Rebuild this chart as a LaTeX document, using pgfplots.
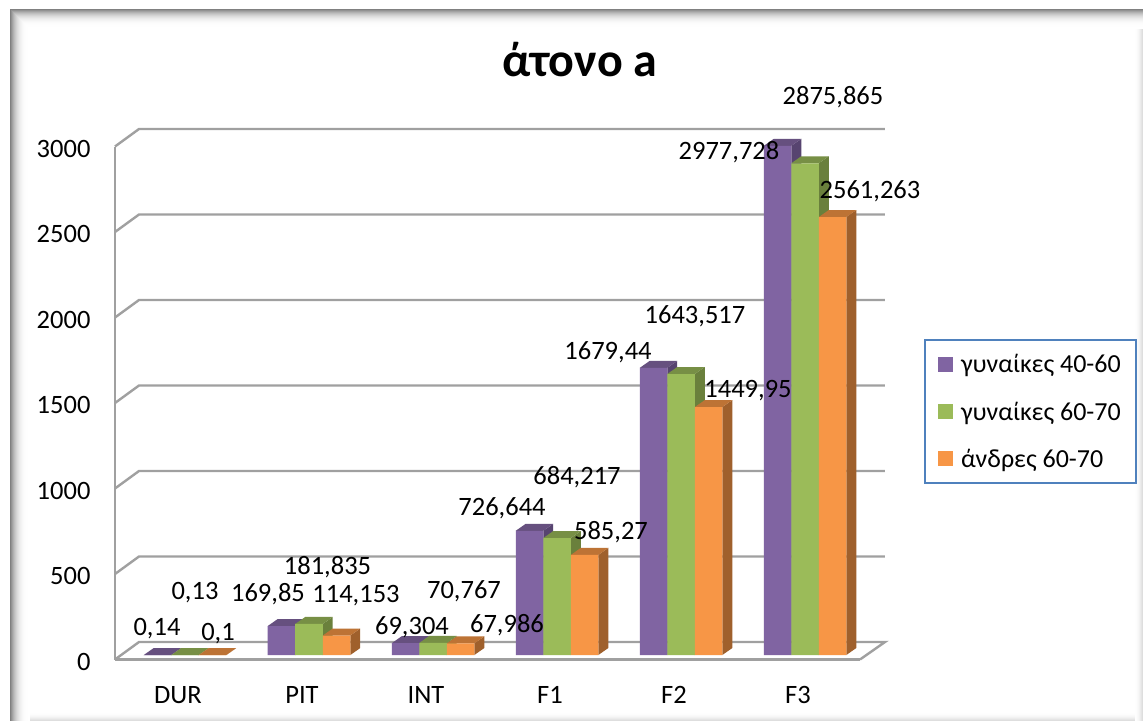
\documentclass[border=0pt]{standalone}
\usepackage{fontspec}
\setmainfont{Carlito}
\usepackage{pgfplots}
\usepackage{pgfplotstable}
\pgfplotsset{compat=1.18}

\definecolor{purp}{HTML}{8064A2}\definecolor{purptop}{HTML}{66507F}\definecolor{purpside}{HTML}{574470}
\definecolor{gre}{HTML}{9BBB59}\definecolor{gretop}{HTML}{778F45}\definecolor{greside}{HTML}{6A803C}
\definecolor{ora}{HTML}{F79646}\definecolor{oratop}{HTML}{BD7335}\definecolor{oraside}{HTML}{9F602C}
\definecolor{wall}{HTML}{A0A0A0}
\definecolor{legblue}{HTML}{4F81BD}

\pgfplotstableread{
x y
0 0.14
1 169.85
2 69.304
3 726.644
4 1679.44
5 2977.728
}\womenA
\pgfplotstableread{
x y
0 0.13
1 181.835
2 70.767
3 684.217
4 1643.517
5 2875.865
}\womenB
\pgfplotstableread{
x y
0 0.1
1 114.153
2 67.986
3 585.27
4 1449.95
5 2561.263
}\menB

% top and side face of each bar: table, left offset, top colour, side colour
\newcommand{\faces}[4]{%
  \pgfplotsforeachungrouped \i in {0,...,5}{%
    \pgfplotstablegetelem{\i}{y}\of#1
    \let\v\pgfplotsretval
    \pgfmathsetmacro\xa{\i+#2}
    \pgfmathsetmacro\xb{\xa+0.2218}
    \pgfmathsetmacro\xc{\xb+0.0806}
    \pgfmathsetmacro\xd{\xa+0.0806}
    \pgfmathsetmacro\yt{\v+41}
    \addplot[forget plot,draw=none,fill=#4] coordinates {(\xb,0)(\xc,41)(\xc,\yt)(\xb,\v)};
    \addplot[forget plot,draw=none,fill=#3] coordinates {(\xa,\v)(\xd,\yt)(\xc,\yt)(\xb,\v)};
  }%
}
\newcommand{\lbl}[3]{\node[anchor=base,inner sep=0pt,font=\fontsize{26.5}{30}\selectfont] at (#1,#2+8.5) {#3};}

\begin{document}
\begin{tikzpicture}
\useasboundingbox (-115pt,-61.5pt) rectangle (1028pt,659.5pt);
\begin{scope}[x=1pt,y=-1pt,shift={(-115pt,659.5pt)}]
  % frame shadow, nested rectangles that fade inwards
  \foreach \k in {0,...,19}{
    \pgfmathsetmacro\g{50*(1-\k/20)^3}
    \fill[black!\g] (10+\k,9+\k) rectangle (1143,721);
  }
  \fill[white] (30,29) rectangle (1143,721);
  \foreach \k in {0,...,7}{
    \pgfmathsetmacro\g{13*((\k+1)/8)^2}
    \fill[black!\g] (1135+\k,29) rectangle (1143,721);
    \fill[black!\g] (30,713+\k) rectangle (1135,721);
  }
\end{scope}
\begin{axis}[
  scale only axis,width=745pt,height=513pt,
  xmin=-0.5645,xmax=5.4435,ymin=-26,ymax=2974,
  clip=false,
  axis x line*=bottom,axis y line*=left,
  axis line style={wall,line width=2.4pt,-},
  tick style={draw=none},
  xtick={0,...,5},xticklabels={DUR,PIT,INT,F1,F2,F3},
  ytick={-26,474,974,1474,1974,2474,2974},
  yticklabels={0,500,1000,1500,2000,2500,3000},
  tick label style={font=\fontsize{26.5}{30}\selectfont},
  xticklabel style={xshift=-7pt,yshift=-23pt},
  yticklabel style={xshift=-21pt,yshift=-2pt},
  title={άτονο a},
  title style={at={(0.624,1.157)},anchor=center,font=\bfseries\fontsize{48}{54}\selectfont},
  sq/.style={legend image code/.code={\fill[##1] (0pt,-7.5pt) rectangle (15pt,7.5pt);\path (21pt,0pt);}},
  legend style={at={(1.0859,0.6248)},anchor=north west,draw=legblue,line width=2pt,
    font=\fontsize{26}{30}\selectfont,inner xsep=13pt,inner ysep=12.5pt,row sep=23.5pt},
  legend cell align=left,
]
% back wall and floor
\addplot[forget plot,wall,line width=2.4pt] coordinates {(-0.5645,-26)(-0.371,76.3)(5.645,76.3)(5.4435,-26)};
\addplot[forget plot,wall,line width=2.4pt] coordinates {(-0.5645,474)(-0.371,576.3)(5.645,576.3)};
\addplot[forget plot,wall,line width=2.4pt] coordinates {(-0.5645,974)(-0.371,1076.3)(5.645,1076.3)};
\addplot[forget plot,wall,line width=2.4pt] coordinates {(-0.5645,1474)(-0.371,1576.3)(5.645,1576.3)};
\addplot[forget plot,wall,line width=2.4pt] coordinates {(-0.5645,1974)(-0.371,2076.3)(5.645,2076.3)};
\addplot[forget plot,wall,line width=2.4pt] coordinates {(-0.5645,2474)(-0.371,2576.3)(5.645,2576.3)};
\addplot[forget plot,wall,line width=2.4pt] coordinates {(-0.5645,2974)(-0.371,3076.3)(5.645,3076.3)};
\faces{\womenA}{-0.3327}{purptop}{purpside}
\faces{\womenB}{-0.1109}{gretop}{greside}
\faces{\menB}{0.1109}{oratop}{oraside}
\addplot[ybar,sq,bar width=27.5pt,bar shift=-27.5pt,draw=none,fill=purp] table[x=x,y=y] {\womenA};
\addlegendentry{γυναίκες 40-60}
\addplot[ybar,sq,bar width=27.5pt,bar shift=0pt,draw=none,fill=gre] table[x=x,y=y] {\womenB};
\addlegendentry{γυναίκες 60-70}
\addplot[ybar,sq,bar width=27.5pt,bar shift=27.5pt,draw=none,fill=ora] table[x=x,y=y] {\menB};
\addlegendentry{άνδρες 60-70}
\end{axis}
\begin{scope}[x=1pt,y=-1pt,shift={(-115pt,659.5pt)}]
  \lbl{157}{627}{0,14}\lbl{195}{591}{0,13}\lbl{218}{632}{0,1}
  \lbl{268}{593}{169,85}\lbl{327.5}{566}{181,835}\lbl{356}{594}{114,153}
  \lbl{412}{626}{69,304}\lbl{464}{590}{70,767}\lbl{507}{624}{67,986}
  \lbl{502}{507}{726,644}\lbl{577}{476}{684,217}\lbl{611}{531}{585,27}
  \lbl{608}{351}{1679,44}\lbl{695}{315}{1643,517}\lbl{748}{389}{1449,95}
  \lbl{729}{151}{2977,728}\lbl{833}{96}{2875,865}\lbl{870}{190}{2561,263}
\end{scope}
\end{tikzpicture}
\end{document}
